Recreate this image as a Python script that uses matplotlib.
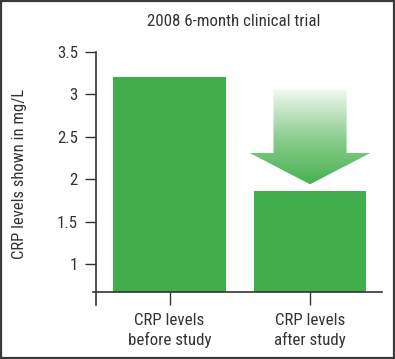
import matplotlib
matplotlib.use("Agg")
import matplotlib.pyplot as plt
import numpy as np
from matplotlib.patches import Polygon, Rectangle
from matplotlib.colors import LinearSegmentedColormap
from matplotlib import font_manager

# data
categories = ["CRP levels\nbefore study", "CRP levels\nafter study"]
crp_values = [3.2, 1.86]
y_ticks    = [1, 1.5, 2, 2.5, 3, 3.5]
y_labels   = ["1", "1.5", "2", "2.5", "3", "3.5"]

names = {f.name for f in font_manager.fontManager.ttflist}
fam = "DejaVu Sans"
for cand in ["Liberation Sans Narrow", "Roboto Condensed", "Open Sans Condensed",
             "DejaVu Sans Condensed", "Liberation Sans"]:
    if cand in names:
        fam = cand
        break
plt.rcParams["font.family"] = fam
narrow = fam in ("Liberation Sans Narrow", "Roboto Condensed", "Open Sans Condensed")
fs = 12.2 if narrow else 10.5

green = "#40ae4b"
dark  = "#333333"

fig = plt.figure(figsize=(3.95, 3.59), dpi=100)
ax = fig.add_axes([96/395, 67/359, 286/395, 240/359])

x = np.arange(len(categories))
ax.bar(x, crp_values, width=0.8, color=green, zorder=2)

ax.set_xlim(-0.523, 1.512)
ax.set_ylim(0.67, 3.5)

# gradient arrow above the second bar
cx = x[1]
tip = crp_values[1] + 0.08
head_base = tip + 0.37
top = crp_values[0] - 0.14
sw, hw = 0.26, 0.43
arrow = Polygon([(cx - sw, top), (cx + sw, top), (cx + sw, head_base), (cx + hw, head_base),
                 (cx, tip), (cx - hw, head_base), (cx - sw, head_base)],
                closed=True, facecolor="none", edgecolor="none", transform=ax.transData)
ax.add_patch(arrow)
cmap = LinearSegmentedColormap.from_list("arr", ["#47b24f", "#8fce92", "#f2f9f2"])
grad = np.linspace(0, 1, 256).reshape(-1, 1)
im = ax.imshow(grad, cmap=cmap, aspect="auto", origin="lower",
               extent=(cx - hw, cx + hw, tip, top), zorder=3)
im.set_clip_path(arrow)

# axes styling
for s in ax.spines.values():
    s.set_visible(False)
ax.plot([-3/286, 1], [0, 0], color=dark, lw=1.2, transform=ax.transAxes, clip_on=False)
ax.plot([0, 0], [-13/240, 1], color=dark, lw=1.2, transform=ax.transAxes, clip_on=False)

ax.set_yticks(y_ticks)
ax.set_yticklabels(y_labels, fontsize=fs, color=dark)
ax.tick_params(axis="y", length=8, width=1, color=dark, pad=5)
ax.set_xticks(x)
ax.set_xticklabels(categories, fontsize=fs, color=dark, linespacing=1.35)
ax.tick_params(axis="x", length=9.4, width=1, color=dark, pad=5.5)

fig.text(234/395, 1 - 21/359, "2008 6-month clinical trial", fontsize=fs,
         color=dark, ha="center", va="center")
fig.text(20/395, 1 - 174/359, "CRP levels shown in mg/L", fontsize=fs - 0.2,
         color=dark, ha="center", va="center", rotation=90)

# frame round the figure
fig.patches.append(Rectangle((0.002, 0.003), 0.995, 0.994, transform=fig.transFigure,
                             fill=False, edgecolor="#3a3a3a", lw=1.6))

fig.savefig("out.png", dpi=100)
